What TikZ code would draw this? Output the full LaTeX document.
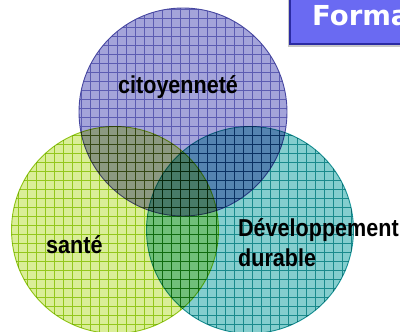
\documentclass[tikz,border=0pt]{standalone}
\usepackage{fontspec}
\setmainfont{Liberation Sans}
\newfontfamily\boxfont{DejaVu Sans}
\definecolor{pfill}{HTML}{A4A4DA}
\definecolor{pline}{HTML}{5C5CB2}
\definecolor{pedge}{HTML}{4646A0}
\definecolor{gfill}{HTML}{DAEE98}
\definecolor{gline}{HTML}{AED632}
\definecolor{gedge}{HTML}{9CCC1C}
\definecolor{tfill}{HTML}{84CECE}
\definecolor{tline}{HTML}{34ACAE}
\definecolor{tedge}{HTML}{1E9EA2}
\definecolor{boxfill}{HTML}{6A6AF2}
\definecolor{boxline}{HTML}{2A2AA2}
\tikzset{
  lbl/.style={anchor=base west, inner sep=0pt, xscale=0.88, font=\bfseries\fontsize{24.5}{28}\selectfont},
  gridline/.style={line width=0.5pt},
  rim/.style={line width=0.9pt},
}
\begin{document}
\begin{tikzpicture}[x=1pt,y=-1pt]
\useasboundingbox (0,0) rectangle (400,332);
\clip (0,0) rectangle (400,332);
\coordinate (cp) at (183,112);
\coordinate (cg) at (115,230);
\coordinate (ct) at (250,230);
% purple circle
\begin{scope}
  \clip (cp) circle (104);
  \fill[pfill] (cp) circle (104);
  \draw[gridline, pline] (70,0) grid[step=9pt] (300,230);
\end{scope}
\draw[rim, pedge] (cp) circle (104);
% green circle
\begin{scope}[blend mode=multiply]
  \begin{scope}
    \clip (cg) circle (103.5);
    \fill[gfill] (cg) circle (103.5);
    \draw[gridline, gline] (0,120) grid[step=9pt] (230,340);
  \end{scope}
  \draw[rim, gedge] (cg) circle (103.5);
\end{scope}
% teal circle
\begin{scope}[blend mode=multiply]
  \begin{scope}
    \clip (ct) circle (103.5);
    \fill[tfill] (ct) circle (103.5);
    \draw[gridline, tline] (140,120) grid[step=9pt] (360,340);
  \end{scope}
  \draw[rim, tedge] (ct) circle (103.5);
\end{scope}
% labels
\node[lbl] (cit) at (118,93) {citoyenneté};
\node[lbl] (san) at (46,253) {santé};
\node[lbl] (dev) at (238,236) {Développement};
\node[lbl] (dur) at (238,266) {durable};
% title box
\fill[gray!45] (288,-5) rectangle (410,47);
\draw[boxline, fill=boxfill, line width=2.4pt] (290,-5) rectangle (410,44);
\node[anchor=base west, inner sep=0pt, text=white, font=\boxfont\bfseries\fontsize{27.5}{32}\selectfont] (form) at (312,26) {Forma};
\end{tikzpicture}
\end{document}
